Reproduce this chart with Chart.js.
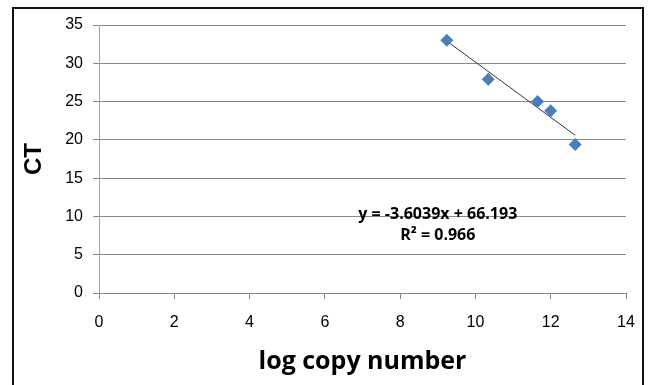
<!DOCTYPE html>
<html>
<head>
<meta charset="utf-8">
<script src="https://cdn.jsdelivr.net/npm/chart.js@4/dist/chart.umd.min.js"></script>
<style>
  html,body{margin:0;padding:0;background:#fff;}
  #wrap{position:relative;width:653px;height:385px;overflow:hidden;}
  #frame{position:absolute;left:12px;top:7px;width:632px;height:420px;border:2px solid #111;box-sizing:border-box;}
  canvas{position:absolute;left:0;top:0;}
</style>
</head>
<body>
<div id="wrap">
  <div id="frame"></div>
  <canvas id="c" width="653" height="385"></canvas>
</div>
<script>
/* ---------- data ---------- */
const logCopy = [9.24, 10.34, 11.65, 12.0, 12.65];
const ctVals  = [33.0, 27.9, 25.0, 23.8, 19.4];

/* trendline as printed on the chart */
const slope = -3.6039, intercept = 66.193, rSq = 0.966;
const trendX = [9.24, 12.65];

const eqLines = ['y = -3.6039x + 66.193', 'R\u00b2 = ' + rSq];
const eqAnchor = {x: 9.0, y: 10.3};

/* ---------- palette ---------- */
const palette = {
  marker:'#4a7ebb', trend:'#333', grid:'#8a8a8a', axis:'#a6a6a6', text:'#000'
};

/* ---------- equation label plugin ---------- */
const eqLabel = {
  id:'eqLabel',
  afterDatasetsDraw(chart){
    const {ctx, scales:{x, y}} = chart;
    const px = x.getPixelForValue(eqAnchor.x), py = y.getPixelForValue(eqAnchor.y);
    ctx.save();
    ctx.fillStyle = palette.text;
    ctx.font = 'bold 16px "Open Sans", sans-serif';
    ctx.textAlign = 'center'; ctx.textBaseline = 'middle';
    ctx.fillText(eqLines[0], px, py);
    ctx.fillText(eqLines[1], px, py + 21);
    ctx.restore();
  }
};

new Chart(document.getElementById('c'), {
  type:'scatter',
  data:{datasets:[
    {label:'CT', data:logCopy.map((v,i)=>({x:v, y:ctVals[i]})),
     pointStyle:'rectRot', pointRadius:6.5, pointHoverRadius:6.5,
     backgroundColor:palette.marker, borderColor:palette.marker, borderWidth:0},
    {label:'Linear', type:'line', data:trendX.map(v=>({x:v, y:slope*v+intercept})),
     borderColor:palette.trend, borderWidth:1, pointRadius:0, fill:false}
  ]},
  options:{
    responsive:false, animation:false,
    layout:{padding:{left:20, right:27, top:25, bottom:0}},
    plugins:{legend:{display:false}, tooltip:{enabled:false}},
    scales:{
      x:{type:'linear', min:0, max:14,
         ticks:{stepSize:2, color:palette.text, padding:14, font:{family:'"Liberation Sans", Arial', size:16}},
         grid:{display:true, drawOnChartArea:false, drawTicks:true, tickLength:6, color:palette.grid},
         border:{color:palette.grid},
         title:{display:true, text:'log copy number', color:palette.text, padding:{top:8, bottom:8},
                font:{family:'"Open Sans", sans-serif', size:25, weight:'bold'}},
         afterFit(s){ s.height = 92; }},
      y:{type:'linear', min:0, max:35,
         ticks:{stepSize:5, color:palette.text, padding:10, font:{family:'"Liberation Sans", Arial', size:16}},
         grid:{color:palette.grid, tickLength:6},
         border:{color:palette.axis},
         title:{display:true, text:'CT', color:palette.text, padding:{top:0, bottom:0},
                font:{family:'"Liberation Sans", Arial', size:24, weight:'bold'}},
         afterFit(s){ s.width = 79; }}
    }
  },
  plugins:[eqLabel]
});
</script>
</body>
</html>
